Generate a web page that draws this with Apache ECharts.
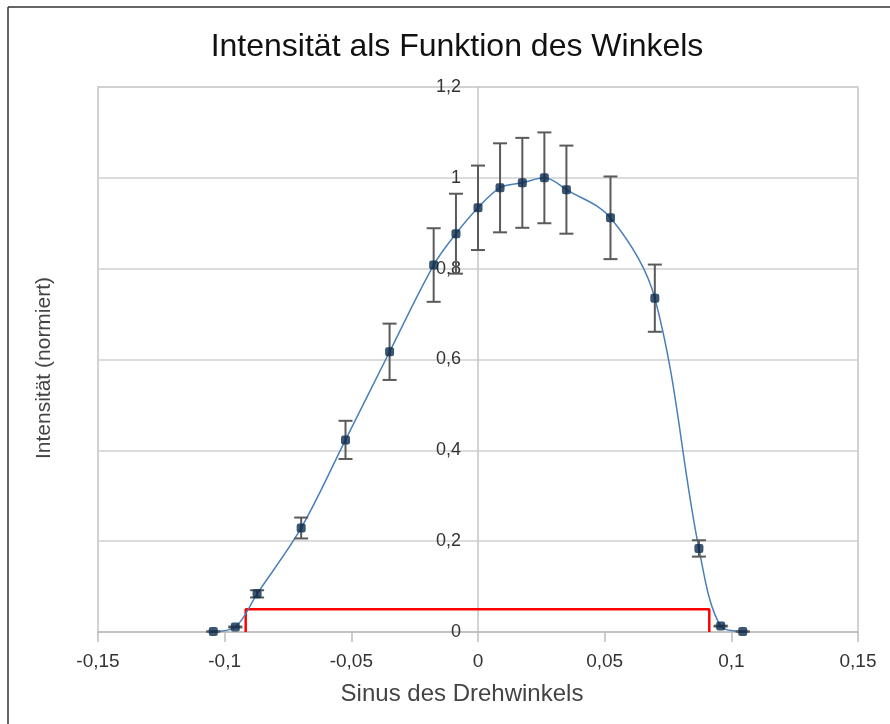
<!DOCTYPE html>
<html>
<head>
<meta charset="utf-8">
<script src="https://cdn.jsdelivr.net/npm/echarts@6/dist/echarts.min.js"></script>
<style>
  html, body { margin: 0; padding: 0; background: #fff; }
  #chart { width: 890px; height: 724px; }
</style>
</head>
<body>
<div id="chart"></div>
<script>
  // Messwerte: Sinus des Drehwinkels, normierte Intensität, Fehler
  const sinWinkel = [-0.1045, -0.0958, -0.0872, -0.0698, -0.0523, -0.0349, -0.0175, -0.0087, 0,
    0.0087, 0.0175, 0.0262, 0.0349, 0.0523, 0.0698, 0.0872, 0.0958, 0.1045];
  const intensitaet = [0.001, 0.011, 0.084, 0.229, 0.423, 0.617, 0.808, 0.877, 0.934,
    0.978, 0.989, 1.0, 0.974, 0.912, 0.735, 0.184, 0.013, 0.001];
  const fehler = [0.0001, 0.001, 0.008, 0.023, 0.042, 0.062, 0.081, 0.088, 0.093,
    0.098, 0.099, 0.1, 0.097, 0.091, 0.074, 0.018, 0.001, 0.0001];

  // rote Markierung (Breite bei Schwelle)
  const markeX = [-0.0917, -0.0917, 0.0913, 0.0913];
  const markeY = [0, 0.05, 0.05, 0];

  const xTicks = [-0.15, -0.1, -0.05, 0, 0.05, 0.1, 0.15];
  const yTicks = [0, 0.2, 0.4, 0.6, 0.8, 1, 1.2];

  const komma = (v) => String(Math.round(v * 1000) / 1000).replace(".", ",");

  const punkte = sinWinkel.map((x, i) => [x, intensitaet[i]]);
  const fehlerDaten = sinWinkel.map((x, i) => [x, intensitaet[i], fehler[i]]);
  const marke = markeX.map((x, i) => [x, markeY[i]]);

  const chart = echarts.init(document.getElementById("chart"));
  const font = "'Liberation Sans', Arial, sans-serif";

  const option = {
    animation: false,
    textStyle: { fontFamily: font },
    title: {
      text: "Intensität als Funktion des Winkels",
      left: 452,
      top: 26,
      textAlign: "center",
      textStyle: { fontSize: 32, fontWeight: "normal", color: "#111", fontFamily: font },
    },
    grid: {
      left: 98,
      right: 32,
      top: 87,
      bottom: 92,
      show: true,
      borderColor: "#c4c4c4",
      borderWidth: 1.5,
    },
    xAxis: {
      type: "value",
      min: xTicks[0],
      max: xTicks[xTicks.length - 1],
      interval: 0.05,
      axisLine: { onZero: true, lineStyle: { color: "#bdbdbd", width: 1.5 } },
      axisTick: { show: true, length: 10, lineStyle: { color: "#bdbdbd", width: 1.5 } },
      axisLabel: { formatter: komma, color: "#333", fontSize: 19, margin: 20 },
      splitLine: { show: false },
    },
    yAxis: {
      type: "value",
      min: yTicks[0],
      max: yTicks[yTicks.length - 1],
      interval: 0.2,
      // Achse liegt bei x = 0 (Mitte des Plotbereichs)
      offset: -380,
      axisLine: { onZero: false, lineStyle: { color: "#c4c4c4", width: 1.5 } },
      axisTick: { show: false },
      axisLabel: { formatter: komma, color: "#333", fontSize: 18, margin: 17 },
      splitLine: { show: true, lineStyle: { color: "#d0d0d0", width: 1.5 } },
    },
    graphic: [
      // Rahmen oben/links
      { type: "line", shape: { x1: 8, y1: 7, x2: 890, y2: 7 }, style: { stroke: "#333", lineWidth: 1.5 } },
      { type: "line", shape: { x1: 8, y1: 7, x2: 8, y2: 724 }, style: { stroke: "#333", lineWidth: 1.5 } },
      {
        type: "text",
        x: 462,
        y: 694,
        style: {
          text: "Sinus des Drehwinkels",
          font: "24px " + font,
          fill: "#444",
          textAlign: "center",
          textVerticalAlign: "middle",
        },
      },
      {
        type: "text",
        x: 44,
        y: 368,
        rotation: Math.PI / 2,
        style: {
          text: "Intensität (normiert)",
          font: "21px " + font,
          fill: "#444",
          textAlign: "center",
          textVerticalAlign: "middle",
        },
      },
    ],
    series: [
      {
        name: "Marke",
        type: "line",
        data: marke,
        symbol: "none",
        lineStyle: { color: "#ff0000", width: 2.5 },
        z: 2,
      },
      {
        name: "Kurve",
        type: "line",
        data: punkte,
        smooth: 0.35,
        symbol: "none",
        lineStyle: { color: "#4a7fb8", width: 1.5 },
        z: 3,
      },
      {
        name: "Fehler",
        type: "custom",
        data: fehlerDaten,
        z: 4,
        renderItem: function (params, api) {
          const x = api.value(0);
          const y = api.value(1);
          const e = api.value(2);
          const oben = api.coord([x, y + e]);
          const unten = api.coord([x, y - e]);
          const hw = 7;
          const st = { stroke: "#5a5a5a", lineWidth: 2 };
          return {
            type: "group",
            children: [
              { type: "line", shape: { x1: oben[0], y1: oben[1], x2: unten[0], y2: unten[1] }, style: st },
              { type: "line", shape: { x1: oben[0] - hw, y1: oben[1], x2: oben[0] + hw, y2: oben[1] }, style: st },
              { type: "line", shape: { x1: unten[0] - hw, y1: unten[1], x2: unten[0] + hw, y2: unten[1] }, style: st },
            ],
          };
        },
      },
      {
        name: "Messpunkte",
        type: "scatter",
        data: punkte,
        symbol: "roundRect",
        symbolSize: 9,
        itemStyle: { color: "#0b2a4d" },
        z: 5,
      },
    ],
  };

  chart.setOption(option);
</script>
</body>
</html>
